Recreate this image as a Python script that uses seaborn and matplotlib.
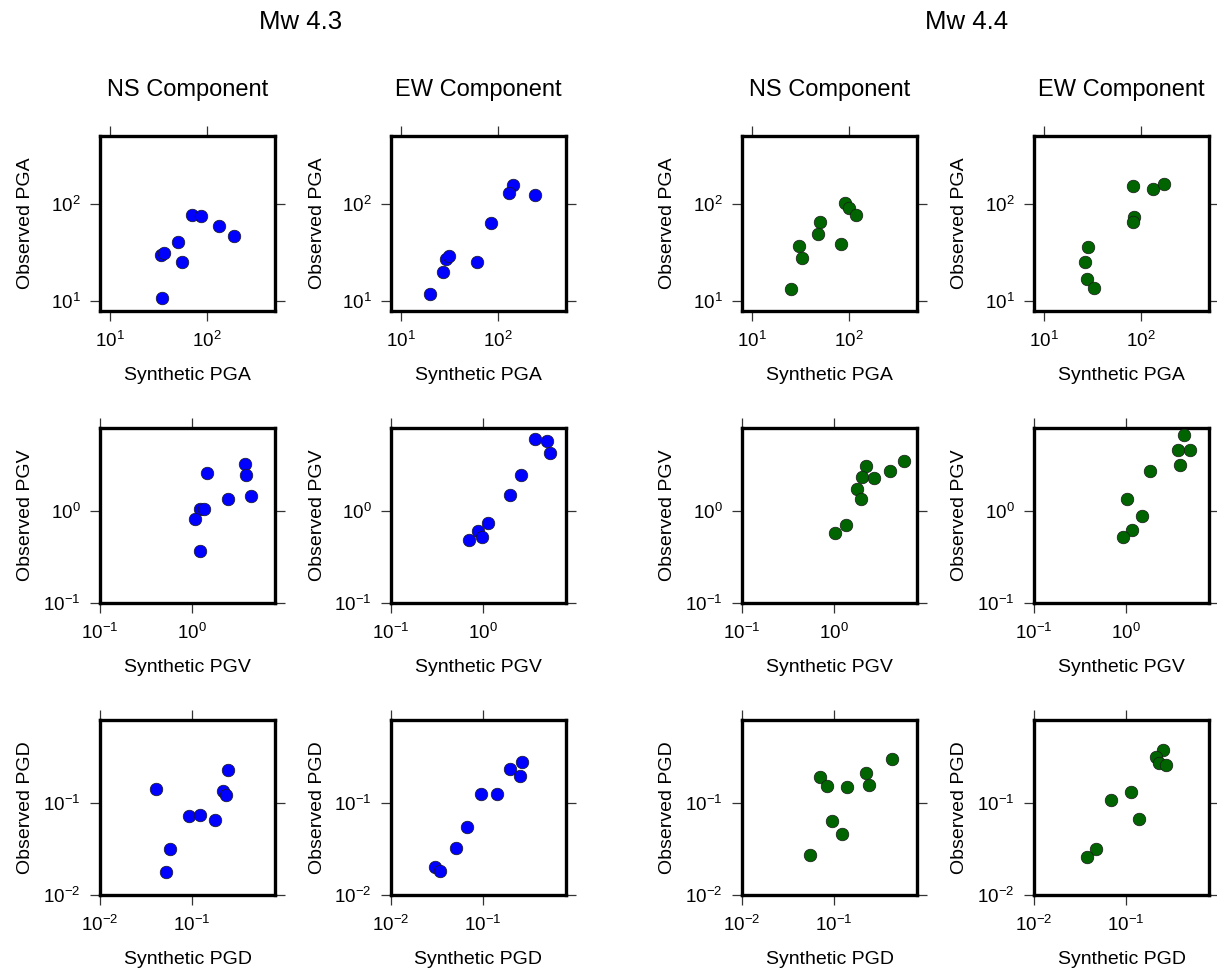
import numpy as np
import pandas as pd
import matplotlib
matplotlib.use("Agg")
import matplotlib.pyplot as plt
import seaborn as sns
from matplotlib.ticker import LogLocator, LogFormatterSciNotation, NullLocator

# ---------------- data ----------------
events = ["Mw 4.3", "Mw 4.4"]
components = ["NS Component", "EW Component"]
params = ["PGA", "PGV", "PGD"]

# Mw 4.3, NS
m43_ns_pga_syn = [33.4, 35.9, 50.7, 55.0, 34.5, 69.5, 86.0, 131.9, 189.0]
m43_ns_pga_obs = [30.1, 31.3, 40.8, 25.3, 10.8, 77.1, 76.0, 59.6, 46.4]
m43_ns_pgv_syn = [1.455, 3.71, 3.80, 4.31, 2.48, 1.21, 1.36, 1.08, 1.22]
m43_ns_pgv_obs = [2.58, 3.24, 2.44, 1.46, 1.36, 1.06, 1.04, 0.81, 0.368]
m43_ns_pgd_syn = [0.0406, 0.248, 0.214, 0.236, 0.092, 0.122, 0.176, 0.058, 0.0517]
m43_ns_pgd_obs = [0.142, 0.227, 0.134, 0.123, 0.0716, 0.0733, 0.0658, 0.0313, 0.0177]
# Mw 4.3, EW
m43_ew_pga_syn = [143.9, 129.8, 238.0, 84.1, 29.0, 31.4, 27.2, 61.4, 20.0]
m43_ew_pga_obs = [158.9, 130.6, 123.6, 63.4, 27.4, 28.9, 20.1, 25.3, 11.8]
m43_ew_pgv_syn = [3.67, 4.88, 5.35, 2.55, 1.95, 1.13, 0.875, 0.968, 0.710]
m43_ew_pgv_obs = [5.99, 5.69, 4.28, 2.44, 1.48, 0.739, 0.609, 0.519, 0.481]
m43_ew_pgd_syn = [0.263, 0.195, 0.251, 0.0944, 0.140, 0.0664, 0.0505, 0.0301, 0.0343]
m43_ew_pgd_obs = [0.278, 0.231, 0.195, 0.126, 0.125, 0.0547, 0.0326, 0.0200, 0.0184]
# Mw 4.4, NS
m44_ns_pga_syn = [91.5, 100.0, 117.0, 50.4, 47.6, 30.4, 33.2, 83.4, 25.2]
m44_ns_pga_obs = [102.4, 91.6, 76.5, 65.4, 49.3, 37.4, 28.2, 38.6, 13.5]
m44_ns_pgv_syn = [5.77, 4.07, 2.23, 2.02, 2.74, 1.79, 1.95, 1.35, 1.03]
m44_ns_pgv_obs = [3.47, 2.70, 3.11, 2.36, 2.30, 1.74, 1.36, 0.703, 0.569]
m44_ns_pgd_syn = [0.428, 0.222, 0.239, 0.0706, 0.0837, 0.138, 0.096, 0.122, 0.0543]
m44_ns_pgd_obs = [0.302, 0.209, 0.155, 0.189, 0.153, 0.150, 0.0631, 0.0455, 0.0271]
# Mw 4.4, EW
m44_ew_pga_syn = [82.0, 134.0, 171.0, 85.5, 82.0, 28.3, 26.6, 27.9, 32.7]
m44_ew_pga_obs = [155.0, 144.5, 160.0, 74.1, 65.9, 36.5, 25.5, 16.9, 13.7]
m44_ew_pgv_syn = [4.26, 3.66, 4.91, 3.88, 1.83, 1.02, 1.48, 1.16, 0.927]
m44_ew_pgv_obs = [6.62, 4.58, 4.58, 3.16, 2.74, 1.35, 0.874, 0.619, 0.519]
m44_ew_pgd_syn = [0.254, 0.212, 0.229, 0.269, 0.114, 0.0686, 0.139, 0.0471, 0.0376]
m44_ew_pgd_obs = [0.376, 0.318, 0.269, 0.258, 0.132, 0.107, 0.0669, 0.0315, 0.0260]

event_colors = ["#0000FF", "#006400"]
axis_limits = {"PGA": (10 ** 0.9, 10 ** 2.7),
               "PGV": (0.1, 10 ** 0.9),
               "PGD": (0.01, 10 ** -0.1)}

series = {
    ("Mw 4.3", "NS Component", "PGA"): (m43_ns_pga_syn, m43_ns_pga_obs),
    ("Mw 4.3", "NS Component", "PGV"): (m43_ns_pgv_syn, m43_ns_pgv_obs),
    ("Mw 4.3", "NS Component", "PGD"): (m43_ns_pgd_syn, m43_ns_pgd_obs),
    ("Mw 4.3", "EW Component", "PGA"): (m43_ew_pga_syn, m43_ew_pga_obs),
    ("Mw 4.3", "EW Component", "PGV"): (m43_ew_pgv_syn, m43_ew_pgv_obs),
    ("Mw 4.3", "EW Component", "PGD"): (m43_ew_pgd_syn, m43_ew_pgd_obs),
    ("Mw 4.4", "NS Component", "PGA"): (m44_ns_pga_syn, m44_ns_pga_obs),
    ("Mw 4.4", "NS Component", "PGV"): (m44_ns_pgv_syn, m44_ns_pgv_obs),
    ("Mw 4.4", "NS Component", "PGD"): (m44_ns_pgd_syn, m44_ns_pgd_obs),
    ("Mw 4.4", "EW Component", "PGA"): (m44_ew_pga_syn, m44_ew_pga_obs),
    ("Mw 4.4", "EW Component", "PGV"): (m44_ew_pgv_syn, m44_ew_pgv_obs),
    ("Mw 4.4", "EW Component", "PGD"): (m44_ew_pgd_syn, m44_ew_pgd_obs),
}

rows = []
for (ev, comp, par), (syn, obs) in series.items():
    for s_, o_ in zip(syn, obs):
        rows.append({"event": ev, "component": comp, "param": par,
                     "syn": s_, "obs": o_})
df = pd.DataFrame(rows)

# ---------------- style ----------------
sns.set_style("ticks")
plt.rcParams['font.family'] = ['Liberation Sans', 'DejaVu Sans']
plt.rcParams['mathtext.fontset'] = 'custom'
plt.rcParams['mathtext.rm'] = 'Liberation Sans'
plt.rcParams['mathtext.it'] = 'Liberation Sans:italic'
plt.rcParams['mathtext.bf'] = 'Liberation Sans:bold'
plt.rcParams['axes.unicode_minus'] = True
plt.rcParams['text.color'] = 'black'
plt.rcParams['axes.labelcolor'] = 'black'
plt.rcParams['xtick.labelcolor'] = 'black'
plt.rcParams['ytick.labelcolor'] = 'black'

W, H = 1217, 972
fig = plt.figure(figsize=(W / 100, H / 100), dpi=100)
fig.patch.set_facecolor("white")

col_left = [100, 391, 742, 1034]
row_top = [136, 428, 720]
size = 175

event_title_x = [301, 967]
for ei, ev in enumerate(events):
    fig.text(event_title_x[ei] / W, 1 - 22 / H, ev, ha="center", va="center",
             fontsize=18.5, color="black")

for ei, ev in enumerate(events):
    for ci, comp in enumerate(components):
        col = ei * 2 + ci
        L = col_left[col]
        fig.text((L + size / 2) / W, 1 - 90 / H, comp, ha="center",
                 va="center", fontsize=17, color="black")
        for ri, par in enumerate(params):
            T = row_top[ri]
            ax = fig.add_axes([L / W, 1 - (T + size) / H, size / W, size / H])
            sub = df[(df.event == ev) & (df.component == comp) & (df.param == par)]
            sns.scatterplot(data=sub, x="syn", y="obs", ax=ax,
                            color=event_colors[ei], s=82, edgecolor="#1a1a1a",
                            linewidth=0.5, zorder=3, legend=False)
            ax.set_xscale("log")
            ax.set_yscale("log")
            lo, hi = axis_limits[par]
            ax.set_xlim(lo, hi)
            ax.set_ylim(lo, hi)
            for axis in (ax.xaxis, ax.yaxis):
                axis.set_major_locator(LogLocator(base=10, numticks=10))
                axis.set_minor_locator(NullLocator())
                axis.set_major_formatter(LogFormatterSciNotation())
            ax.tick_params(which="major", direction="out", length=7, width=0.9,
                           color="#333333", pad=7, labelsize=13.5,
                           labelcolor="black",
                           top=True, right=True, labeltop=False,
                           labelright=False)
            for sp in ax.spines.values():
                sp.set_linewidth(2.4)
                sp.set_color("black")
                sp.set_visible(True)
            ax.set_xlabel("Synthetic " + par, fontsize=14, color="black")
            ax.set_ylabel("Observed " + par, fontsize=14, color="black")
            ax.xaxis.set_label_coords(0.5, -64 / size)
            ax.yaxis.set_label_coords(-74 / size, 0.5)
            ax.xaxis.label.set_va("center")
            ax.yaxis.label.set_va("center")
            ax.set_facecolor("white")

fig.savefig("out.png", dpi=100, facecolor="white")
